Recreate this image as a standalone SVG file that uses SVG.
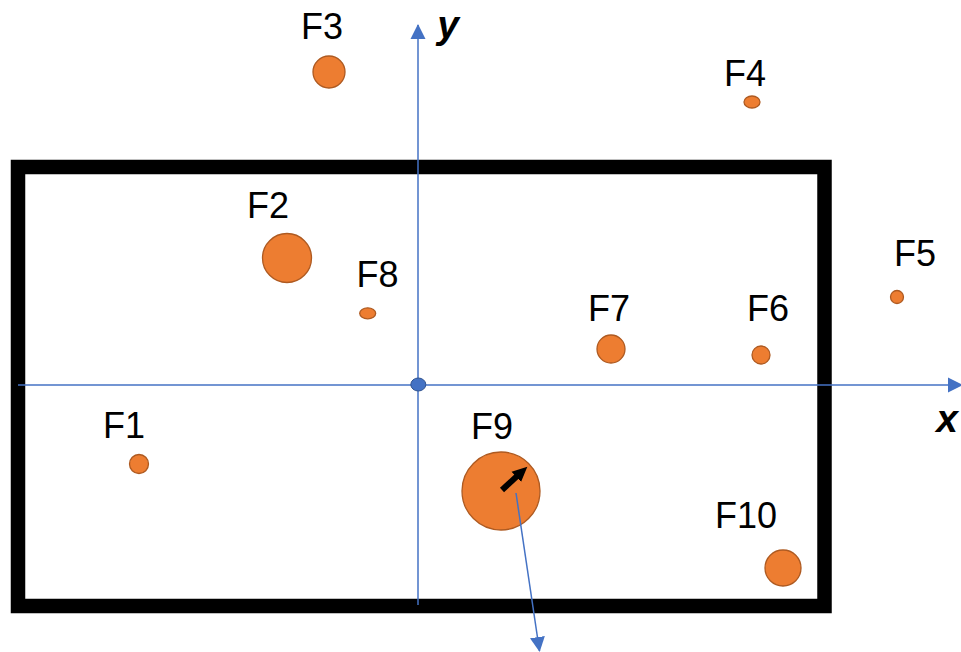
<svg xmlns="http://www.w3.org/2000/svg" width="961" height="652" viewBox="0 0 961 652">
<style>
.frame{fill:none;stroke:#000;stroke-width:14.5}
.axis{stroke:#4472C4;stroke-width:1.5;fill:none}
.f{fill:#ED7D31;stroke:#AE5A21;stroke-width:1.3}
.lbl{font-family:"Liberation Sans",Arial,sans-serif;font-size:36px;fill:#000;text-anchor:middle}
.ax{font-family:"Liberation Sans",Arial,sans-serif;font-size:39px;font-weight:bold;font-style:italic;fill:#000;text-anchor:middle}
</style>
<defs>
<marker id="blueHead" markerUnits="userSpaceOnUse" markerWidth="16" markerHeight="16" viewBox="0 0 16 16" refX="14" refY="8" orient="auto">
<path d="M0,0.5 L15,8 L0,15.5 z" fill="#4472C4"/>
</marker>
<marker id="blackHead" markerUnits="userSpaceOnUse" markerWidth="16" markerHeight="16" viewBox="0 0 16 16" refX="3" refY="8" orient="auto">
<path d="M0,1 L15,8 L0,15 z" fill="#000"/>
</marker>
</defs>
<rect id="boundary" class="frame" x="18" y="167" width="806.5" height="439"/>
<g id="F1"><circle class="f" cx="139" cy="464" r="9.5"/><text class="lbl" x="124" y="438">F1</text></g>
<g id="F2"><circle class="f" cx="287" cy="258" r="24.5"/><text class="lbl" x="268" y="218">F2</text></g>
<g id="F3"><circle class="f" cx="329" cy="72" r="16"/><text class="lbl" x="322" y="39">F3</text></g>
<g id="F4"><ellipse class="f" cx="752" cy="102" rx="8" ry="6"/><text class="lbl" x="745" y="86">F4</text></g>
<g id="F5"><circle class="f" cx="897" cy="297" r="6.5"/><text class="lbl" x="915" y="266">F5</text></g>
<g id="F6"><circle class="f" cx="761" cy="355" r="9"/><text class="lbl" x="768" y="321">F6</text></g>
<g id="F7"><circle class="f" cx="611" cy="349" r="14"/><text class="lbl" x="609" y="321">F7</text></g>
<g id="F8"><ellipse class="f" cx="367.7" cy="313.3" rx="8" ry="5.5"/><text class="lbl" x="377.5" y="286.5">F8</text></g>
<g id="F9"><circle class="f" cx="501" cy="491" r="39"/><text class="lbl" x="492" y="439">F9</text></g>
<g id="F10"><circle class="f" cx="783" cy="568" r="18"/><text class="lbl" x="746" y="527.5">F10</text></g>
<g id="connectors">
<line class="axis" x1="18" y1="385" x2="962" y2="385" marker-end="url(#blueHead)"/>
<line class="axis" x1="418" y1="605" x2="418" y2="25" marker-end="url(#blueHead)"/>
<line class="axis" x1="516" y1="493" x2="539.5" y2="651" marker-end="url(#blueHead)"/>
<line x1="502" y1="490" x2="518.5" y2="474.8" stroke="#000" stroke-width="6" marker-end="url(#blackHead)"/>
</g>
<g id="origin"><ellipse cx="418.3" cy="384.5" rx="7.5" ry="6.5" fill="#4472C4" stroke="#2F528F" stroke-width="1"/></g>
<g id="axis-x"><text class="ax" x="947" y="432">x</text></g>
<g id="axis-y"><text class="ax" x="448" y="38">y</text></g>
</svg>
